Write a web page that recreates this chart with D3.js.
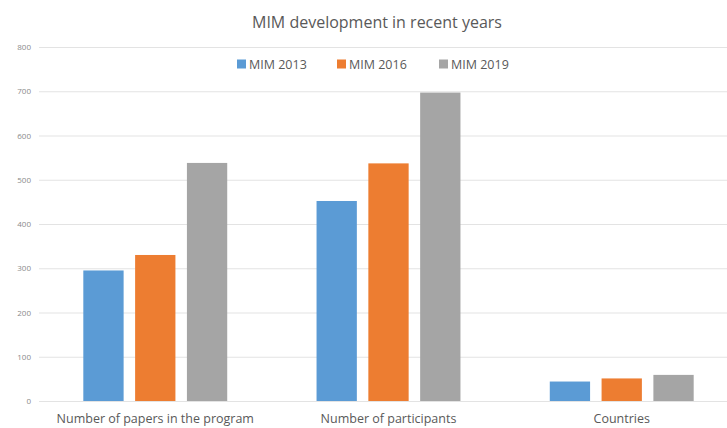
<!DOCTYPE html>
<html>
<head>
<meta charset="utf-8">
<script src="https://cdn.jsdelivr.net/npm/d3@7"></script>
<style>
    body { margin: 0; background: #fff; }
    svg { display: block; font-family: "Open Sans", "Liberation Sans", sans-serif; }
</style>
</head>
<body>
<svg width="727" height="428"></svg>
<script>
// chart data
const categories = ["Number of papers in the program", "Number of participants", "Countries"];
const series = ["MIM 2013", "MIM 2016", "MIM 2019"];
const mim2013 = [295, 452, 44];
const mim2016 = [330, 537, 51];
const mim2019 = [538, 697, 59];
const yTicks = [0, 100, 200, 300, 400, 500, 600, 700, 800];
const colors = ["#5B9BD5", "#ED7D31", "#A5A5A5"];

const values = [mim2013, mim2016, mim2019];

const svg = d3.select("svg"),
    width = +svg.attr("width"),
    height = +svg.attr("height");

const x0 = d3.scaleBand()
    .domain(categories)
    .range([39, 738])
    .paddingInner(0.383)
    .paddingOuter(0.19);

const x1 = d3.scaleBand()
    .domain(series)
    .range([0, x0.bandwidth()])
    .paddingInner(0.222);

const y = d3.scaleLinear()
    .domain([0, 800])
    .range([401, 47]);

const color = d3.scaleOrdinal().domain(series).range(colors);

// gridlines + tick labels
const yAxis = svg.append("g")
    .attr("transform", "translate(39,0)")
    .call(d3.axisLeft(y).tickValues(yTicks).tickSize(-(width - 39)).tickPadding(8))
    .attr("font-family", null);
yAxis.select(".domain").remove();
yAxis.selectAll(".tick line").attr("stroke", "#e3e3e3").attr("stroke-width", 1);
yAxis.selectAll(".tick text")
    .attr("fill", "#8a8a8a")
    .style("font-size", "8px");

// bars
const groups = svg.append("g")
    .selectAll("g")
    .data(categories)
    .join("g")
    .attr("transform", d => "translate(" + x0(d) + ",0)");

groups.selectAll("rect")
    .data((d, i) => series.map((s, j) => ({key: s, value: values[j][i]})))
    .join("rect")
    .attr("x", d => x1(d.key))
    .attr("width", x1.bandwidth())
    .attr("y", d => y(d.value))
    .attr("height", d => y(0) - y(d.value))
    .attr("fill", d => color(d.key));

// category labels
const xAxis = svg.append("g")
    .attr("transform", "translate(0,401)")
    .call(d3.axisBottom(x0).tickSize(0).tickPadding(13))
    .attr("font-family", null);
xAxis.select(".domain").remove();
xAxis.selectAll(".tick text")
    .attr("fill", "#595959")
    .style("font-size", "12.5px");

// title
svg.append("text")
    .attr("x", 377)
    .attr("y", 28)
    .attr("text-anchor", "middle")
    .attr("fill", "#595959")
    .style("font-size", "16px")
    .text("MIM development in recent years");

// legend
const legendX = [237, 337, 439];
const legend = svg.append("g")
    .selectAll("g")
    .data(series)
    .join("g")
    .attr("transform", (d, i) => "translate(" + legendX[i] + ",64)");

legend.append("rect")
    .attr("x", 0)
    .attr("y", -4.5)
    .attr("width", 9)
    .attr("height", 9)
    .attr("fill", d => color(d));

legend.append("text")
    .attr("x", 12)
    .attr("y", 4.5)
    .attr("fill", "#595959")
    .style("font-size", "12.5px")
    .text(d => d);
</script>
</body>
</html>
